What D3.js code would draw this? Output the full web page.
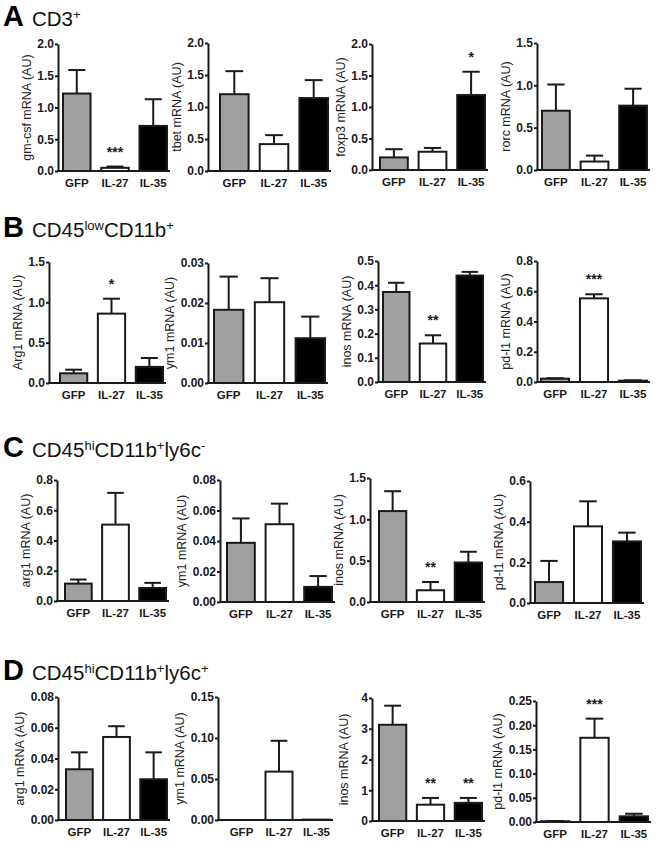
<!DOCTYPE html>
<html>
<head>
<meta charset="utf-8">
<script src="https://cdn.jsdelivr.net/npm/d3@7"></script>
<style>
  html, body { margin: 0; padding: 0; background: #fff; }
  svg { display: block; }
  text { font-family: Arial, "Liberation Sans", sans-serif; }
</style>
</head>
<body>
<svg id="chart" width="660" height="842"></svg>
<script>
// ---------------- DATA ----------------
const groups = ["GFP", "IL-27", "IL-35"];

const rowLetters = ["A", "B", "C", "D"];
// title segments: [text, isSuperscript]
const rowTitles = [
  [["CD3", false], ["+", true]],
  [["CD45", false], ["low", true], ["CD11b", false], ["+", true]],
  [["CD45", false], ["hi", true], ["CD11b", false], ["+", true], ["ly6c", false], ["-", true]],
  [["CD45", false], ["hi", true], ["CD11b", false], ["+", true], ["ly6c", false], ["+", true]]
];

const yLabelsA = ["gm-csf mRNA (AU)", "tbet mRNA (AU)", "foxp3 mRNA (AU)", "rorc mRNA (AU)"];
const yLabelsB = ["Arg1 mRNA (AU)", "ym1 mRNA (AU)", "inos mRNA (AU)", "pd-l1 mRNA (AU)"];
const yLabelsC = ["arg1 mRNA (AU)", "ym1 mRNA (AU)", "inos mRNA (AU)", "pd-l1 mRNA (AU)"];
const yLabelsD = ["arg1 mRNA (AU)", "ym1 mRNA (AU)", "inos mRNA (AU)", "pd-l1 mRNA (AU)"];

// mean values per panel: [GFP, IL-27, IL-35]
const meansA = [[1.22, 0.05, 0.71], [1.20, 0.42, 1.14], [0.20, 0.29, 1.19], [0.70, 0.10, 0.76]];
const meansB = [[0.12, 0.86, 0.20], [0.0183, 0.0202, 0.0112], [0.372, 0.159, 0.44], [0.022, 0.553, 0.009]];
const meansC = [[0.115, 0.505, 0.086], [0.0388, 0.051, 0.0099], [1.10, 0.142, 0.478], [0.103, 0.377, 0.303]];
const meansD = [[0.033, 0.054, 0.0265], [0.0, 0.059, 0.0005], [3.13, 0.53, 0.59], [0.0015, 0.174, 0.0117]];

// SEM (upper error) per panel
const semA = [[0.37, 0.02, 0.42], [0.36, 0.14, 0.28], [0.13, 0.06, 0.37], [0.31, 0.07, 0.20]];
const semB = [[0.045, 0.185, 0.11], [0.0083, 0.006, 0.0054], [0.038, 0.034, 0.015], [0.003, 0.027, 0.002]];
const semC = [[0.027, 0.21, 0.034], [0.016, 0.0135, 0.0071], [0.24, 0.10, 0.13], [0.104, 0.123, 0.043]];
const semD = [[0.011, 0.007, 0.0175], [0.0, 0.0376, 0.0], [0.62, 0.22, 0.16], [0.0005, 0.0395, 0.0053]];

// significance marks
const starsA = [["", "***", ""], ["", "", ""], ["", "", "*"], ["", "", ""]];
const starsB = [["", "*", ""], ["", "", ""], ["", "**", ""], ["", "***", ""]];
const starsC = [["", "", ""], ["", "", ""], ["", "**", ""], ["", "", ""]];
const starsD = [["", "", ""], ["", "", ""], ["", "**", "**"], ["", "***", ""]];

// y tick values (tick labels)
const ticksA = [[0, 0.5, 1.0, 1.5, 2.0], [0, 0.5, 1.0, 1.5, 2.0], [0, 0.5, 1.0, 1.5, 2.0], [0, 0.5, 1.0, 1.5]];
const ticksB = [[0, 0.5, 1.0, 1.5], [0, 0.01, 0.02, 0.03], [0, 0.1, 0.2, 0.3, 0.4, 0.5], [0, 0.2, 0.4, 0.6, 0.8]];
const ticksC = [[0, 0.2, 0.4, 0.6, 0.8], [0, 0.02, 0.04, 0.06, 0.08], [0, 0.5, 1.0, 1.5], [0, 0.2, 0.4, 0.6]];
const ticksD = [[0, 0.02, 0.04, 0.06, 0.08], [0, 0.05, 0.10, 0.15], [0, 1, 2, 3, 4], [0, 0.05, 0.10, 0.15, 0.20, 0.25]];

const tickFormatsA = [".1f", ".1f", ".1f", ".1f"];
const tickFormatsB = [".1f", ".2f", ".1f", ".1f"];
const tickFormatsC = [".1f", ".2f", ".1f", ".1f"];
const tickFormatsD = [".2f", ".2f", "d", ".2f"];

// ---------------- LAYOUT ----------------
// per panel: [axisX, barStart, barEnd, topY, bottomY]
const layoutA = [[58, 63, 167, 44, 171], [208, 220, 328, 43, 171], [372, 380, 485, 44, 170], [537, 542, 647, 43, 170]];
const layoutB = [[49, 60, 163, 262, 383], [208, 214, 325, 263, 383], [378, 383, 483, 261, 382], [537, 541, 647, 261, 382]];
const layoutC = [[57, 65, 166, 480, 601], [220, 227, 332, 480, 602], [370, 379, 482, 478, 602], [530, 535, 641, 481, 603]];
const layoutD = [[58, 66, 167, 697, 820], [218, 228, 330, 697, 820], [372, 379, 482, 698, 821], [536, 541, 648, 701, 822]];
const titleBaselines = [26, 237, 457, 680];

const fills = { "GFP": "#a0a0a0", "IL-27": "#ffffff", "IL-35": "#000000" };
const ink = "#1a1a1a";

const rows = [
  { labels: yLabelsA, means: meansA, sem: semA, stars: starsA, ticks: ticksA, fmts: tickFormatsA, layout: layoutA },
  { labels: yLabelsB, means: meansB, sem: semB, stars: starsB, ticks: ticksB, fmts: tickFormatsB, layout: layoutB },
  { labels: yLabelsC, means: meansC, sem: semC, stars: starsC, ticks: ticksC, fmts: tickFormatsC, layout: layoutC },
  { labels: yLabelsD, means: meansD, sem: semD, stars: starsD, ticks: ticksD, fmts: tickFormatsD, layout: layoutD }
];

const svg = d3.select("#chart");

// ---------------- TITLES ----------------
rowLetters.forEach((letter, r) => {
  svg.append("text")
    .attr("x", 3).attr("y", titleBaselines[r])
    .attr("font-size", 29).attr("font-weight", "bold").attr("fill", "#000")
    .text(letter);
  const t = svg.append("text")
    .attr("x", 32).attr("y", titleBaselines[r])
    .attr("font-size", 20.5).attr("fill", "#111");
  rowTitles[r].forEach(([s, sup]) => {
    if (sup) {
      t.append("tspan").attr("font-size", 13).attr("baseline-shift", "7").text(s);
    } else {
      t.append("tspan").text(s);
    }
  });
});

// ---------------- PANELS ----------------
rows.forEach((row, r) => {
  for (let p = 0; p < 4; p++) {
    const [axisX, b0, b1, topY, botY] = row.layout[p];
    const ticks = row.ticks[p];
    const ymax = ticks[ticks.length - 1];
    const y = d3.scaleLinear().domain([0, ymax]).range([botY, topY]);
    const x = d3.scaleBand().domain(groups).range([b0, b1]).paddingInner(0.28).paddingOuter(0);
    const g = svg.append("g");

    // bars
    const data = groups.map((k, i) => ({ k, m: row.means[p][i], e: row.sem[p][i], s: row.stars[p][i] }));
    g.selectAll("rect.bar").data(data).join("rect")
      .attr("class", "bar")
      .attr("x", d => x(d.k))
      .attr("y", d => y(d.m))
      .attr("width", x.bandwidth())
      .attr("height", d => y(0) - y(d.m))
      .attr("fill", d => fills[d.k])
      .attr("stroke", ink)
      .attr("stroke-width", 2);

    // error bars (upper only)
    const cap = x.bandwidth() * 0.62;
    data.forEach(d => {
      if (d.e <= 0) return;
      const cx = x(d.k) + x.bandwidth() / 2;
      g.append("line")
        .attr("x1", cx).attr("x2", cx)
        .attr("y1", y(d.m)).attr("y2", y(d.m + d.e))
        .attr("stroke", ink).attr("stroke-width", 2);
      g.append("line")
        .attr("x1", cx - cap / 2).attr("x2", cx + cap / 2)
        .attr("y1", y(d.m + d.e)).attr("y2", y(d.m + d.e))
        .attr("stroke", ink).attr("stroke-width", 2);
    });

    // stars
    data.forEach(d => {
      if (!d.s) return;
      const cx = x(d.k) + x.bandwidth() / 2;
      g.append("text")
        .attr("x", cx).attr("y", y(d.m + d.e) - 10)
        .attr("text-anchor", "middle")
        .attr("font-size", 14).attr("font-weight", "bold").attr("fill", ink)
        .text(d.s);
    });

    // y axis
    const yAxis = d3.axisLeft(y).tickValues(ticks).tickFormat(d3.format(row.fmts[p]))
      .tickSize(3).tickPadding(1).tickSizeOuter(0);
    const ya = g.append("g").attr("transform", `translate(${axisX},0)`).call(yAxis);
    ya.attr("font-size", null).attr("font-family", null);
    ya.select(".domain").attr("stroke", ink).attr("stroke-width", 2);
    ya.selectAll(".tick line").attr("stroke", ink).attr("stroke-width", 2);
    ya.selectAll(".tick text")
      .attr("font-size", 12).attr("font-weight", "bold").attr("fill", ink)
      .attr("font-family", "Arial, 'Liberation Sans', sans-serif");

    // x axis line
    g.append("line")
      .attr("x1", axisX - 1).attr("x2", b1 + 3)
      .attr("y1", y(0)).attr("y2", y(0))
      .attr("stroke", ink).attr("stroke-width", 2);

    // category labels
    g.selectAll("text.cat").data(groups).join("text")
      .attr("class", "cat")
      .attr("x", d => x(d) + x.bandwidth() / 2)
      .attr("y", y(0) + 16)
      .attr("text-anchor", "middle")
      .attr("font-size", 11.5).attr("font-weight", "bold").attr("fill", ink)
      .text(d => d);

    // y label, placed just left of the widest tick label
    let minX = axisX - 20;
    ya.selectAll(".tick text").each(function () {
      const bb = this.getBBox();
      minX = Math.min(minX, axisX + bb.x - 3);
    });
    const labelX = minX - 8;
    g.append("text")
      .attr("transform", `translate(${labelX},${(topY + botY) / 2}) rotate(-90)`)
      .attr("text-anchor", "middle")
      .attr("dy", "0.35em")
      .attr("font-size", 12.5).attr("fill", "#222")
      .text(row.labels[p]);
  }
});
</script>
</body>
</html>
